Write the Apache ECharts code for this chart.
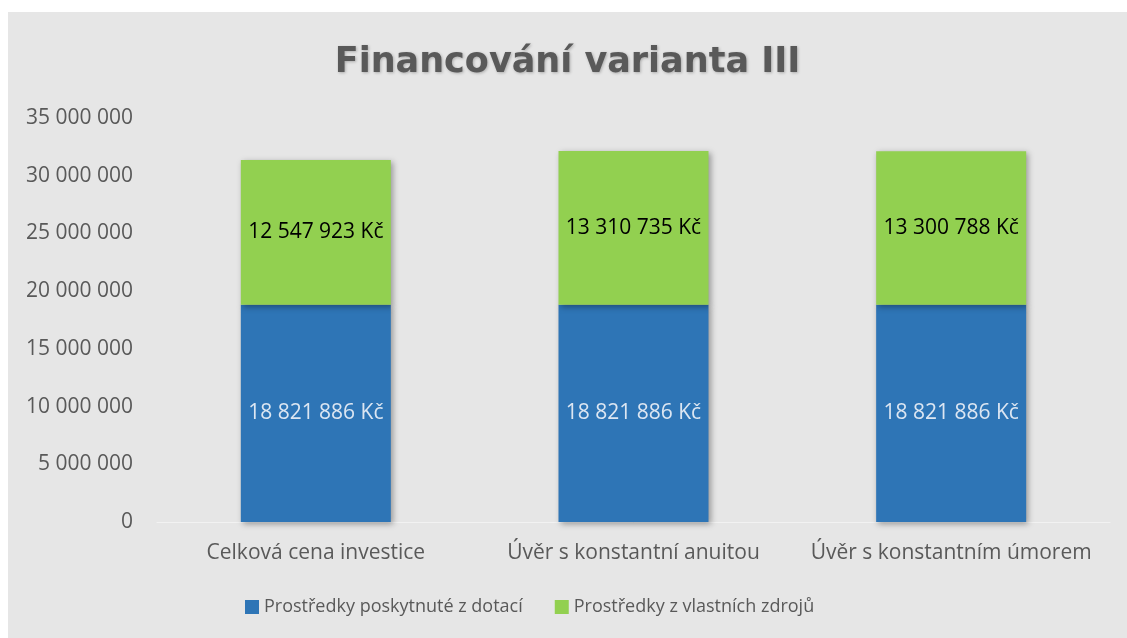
<!DOCTYPE html>
<html>
<head>
<meta charset="utf-8">
<script src="https://cdn.jsdelivr.net/npm/echarts@6/dist/echarts.min.js"></script>
<style>
  html, body { margin: 0; padding: 0; background: #ffffff; }
  #main { position: absolute; left: 8px; top: 12px; width: 1119px; height: 626px; background: #e6e6e6; }
</style>
</head>
<body>
<div id="main"></div>
<script>
var categories = ['Celková cena investice', 'Úvěr s konstantní anuitou', 'Úvěr s konstantním úmorem'];
var dotace = [18821886, 18821886, 18821886];
var vlastni = [12547923, 13310735, 13300788];
var seriesNames = ['Prostředky poskytnuté z dotací', 'Prostředky z vlastních zdrojů'];

function spaced(v) {
    return String(v).replace(/\B(?=(\d{3})+(?!\d))/g, ' ');
}

var myChart = echarts.init(document.getElementById('main'));

var option = {
    backgroundColor: '#e6e6e6',
    textStyle: { fontFamily: 'Open Sans' },
    title: {
        text: 'Financování varianta III',
        left: 'center',
        top: 28,
        textStyle: {
            fontFamily: 'DejaVu Sans',
            fontSize: 35,
            fontWeight: 'bold',
            color: '#595959',
            textShadowColor: 'rgba(0,0,0,0.25)',
            textShadowBlur: 3,
            textShadowOffsetX: 1,
            textShadowOffsetY: 1
        }
    },
    legend: {
        bottom: 17,
        left: 232,
        itemWidth: 14,
        itemHeight: 14,
        itemGap: 32,
        icon: 'rect',
        textStyle: { fontFamily: 'Open Sans', fontSize: 18, color: '#595959' },
        data: seriesNames
    },
    grid: {
        left: 149,
        right: 17,
        top: 106,
        bottom: 116,
        containLabel: false
    },
    xAxis: {
        type: 'category',
        data: categories,
        axisLine: { lineStyle: { color: '#f2f2f2', width: 1 } },
        axisTick: { show: false },
        axisLabel: { fontSize: 21, color: '#595959', margin: 21, interval: 0 }
    },
    yAxis: {
        type: 'value',
        min: 0,
        max: 35000000,
        interval: 5000000,
        splitLine: { show: false },
        axisLine: { show: false },
        axisTick: { show: false },
        axisLabel: {
            fontSize: 21,
            color: '#595959',
            margin: 24,
            formatter: function (v) { return spaced(v); }
        }
    },
    series: [
        {
            name: seriesNames[0],
            type: 'bar',
            stack: 'total',
            barWidth: 150,
            data: dotace,
            itemStyle: {
                color: '#2e75b6',
                shadowColor: 'rgba(0,0,0,0.35)',
                shadowBlur: 6,
                shadowOffsetX: 2,
                shadowOffsetY: 2
            },
            label: {
                show: true,
                position: 'inside',
                fontSize: 21,
                color: '#dce6f2',
                formatter: function (p) { return spaced(p.value) + ' Kč'; }
            }
        },
        {
            name: seriesNames[1],
            type: 'bar',
            stack: 'total',
            barWidth: 150,
            data: vlastni,
            itemStyle: {
                color: '#92d050',
                shadowColor: 'rgba(0,0,0,0.35)',
                shadowBlur: 6,
                shadowOffsetX: 2,
                shadowOffsetY: 2
            },
            label: {
                show: true,
                position: 'inside',
                fontSize: 21,
                color: '#000000',
                formatter: function (p) { return spaced(p.value) + ' Kč'; }
            }
        }
    ]
};

myChart.setOption(option);
</script>
</body>
</html>
